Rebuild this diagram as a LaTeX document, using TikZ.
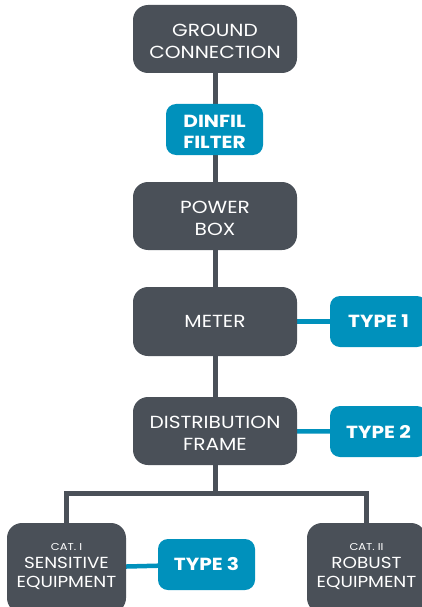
\documentclass[tikz,border=0pt]{standalone}
\usepackage{fontspec}
\setmainfont{Poppins}[FakeStretch=1.15]
\usetikzlibrary{backgrounds}
\definecolor{darkbox}{RGB}{74,80,88}
\definecolor{bluebox}{RGB}{0,145,188}
\newcommand\tworows[2]{\raisebox{-4pt}[\height][\depth]{\begin{tabular}{@{}c@{}}#1\\#2\end{tabular}}}
\begin{document}
\begin{tikzpicture}[x=1pt,y=-1pt,
  darkstyle/.style={fill=darkbox,rounded corners=15pt,inner sep=0pt,text=white,align=center,font=\fontsize{17.5}{21.5}\selectfont},
  bluestyle/.style={fill=bluebox,rounded corners=10pt,inner sep=0pt,text=white,align=center,font=\fontsize{17.5}{21.5}\selectfont\bfseries},
  grayline/.style={draw=darkbox,line width=5pt},
  blueline/.style={draw=bluebox,line width=4.5pt}]
\useasboundingbox (0,0) rectangle (422,607);
\begin{scope}
\clip (0,0) rectangle (422,607);
\coordinate (barL) at (66,493);
\coordinate (barR) at (368,493);
\coordinate (barM) at (215,493);
\node[darkstyle,minimum width=164pt,minimum height=68pt] (ground) at (215,39) {\tworows{GROUND}{CONNECTION}};
\node[bluestyle,minimum width=97pt,minimum height=51pt] (dinfil) at (214.5,129.5) {\tworows{DINFIL}{FILTER}};
\node[darkstyle,minimum width=164pt,minimum height=68pt] (power) at (215,216) {\tworows{POWER}{BOX}};
\node[darkstyle,minimum width=164pt,minimum height=69pt] (meter) at (215,321.5) {METER};
\node[darkstyle,minimum width=164pt,minimum height=68pt] (dist) at (215,431) {\tworows{DISTRIBUTION}{FRAME}};
\node[darkstyle,minimum width=119pt,minimum height=90pt] (cat1) at (66.5,568) {};
\node[darkstyle,minimum width=119pt,minimum height=90pt] (cat2) at (366.5,568) {};
\node[text=white,align=center,font=\fontsize{16}{19}\selectfont] (cat1t) at (66.5,566.5) {{\fontsize{10}{11}\selectfont CAT. I}\\[-1pt]SENSITIVE\\EQUIPMENT};
\node[text=white,align=center,font=\fontsize{16}{19}\selectfont] (cat2t) at (366.5,566.5) {{\fontsize{10}{11}\selectfont CAT. II}\\[-1pt]ROBUST\\EQUIPMENT};
\node[bluestyle,minimum width=97pt,minimum height=51pt] (type1) at (378.5,321.5) {TYPE 1};
\node[bluestyle,minimum width=97pt,minimum height=51pt] (type2) at (378.5,431.5) {TYPE 2};
\node[bluestyle,minimum width=97pt,minimum height=51pt] (type3) at (206.5,564.5) {TYPE 3};
\begin{scope}[on background layer]
\draw[grayline] (ground.center) -- (power.center);
\draw[grayline] (power.center) -- (meter.center);
\draw[grayline] (meter.center) -- (dist.center);
\draw[grayline] (dist.center) -- (barM);
\draw[grayline,line join=miter] (cat1.center) -- (cat1.center |- barL) -- (cat2.center |- barR) -- (cat2.center);
\draw[blueline] (meter.center) -- (type1.center);
\draw[blueline] (dist.center) -- (type2.center);
\draw[blueline] (cat1.center) -- (type3.center);
\end{scope}
\end{scope}
\end{tikzpicture}
\end{document}
